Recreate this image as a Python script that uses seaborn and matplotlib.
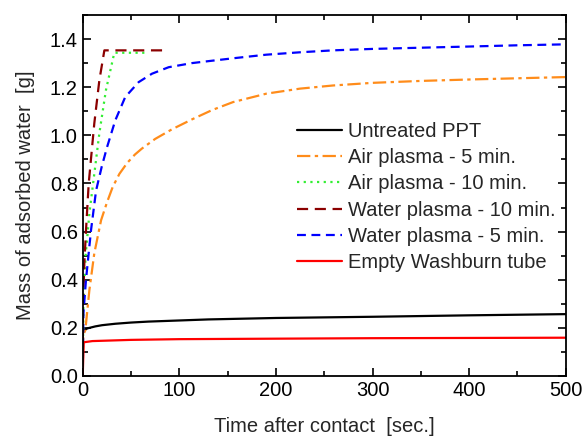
import numpy as np
import pandas as pd
import seaborn as sns
import matplotlib.pyplot as plt
from matplotlib.ticker import MultipleLocator

# data (time in s, mass in g)
t_untreated = [0, 0.5, 1, 5, 13, 20, 33.7, 50, 68, 130, 200, 300, 400, 500]
m_untreated = [0.17, 0.185, 0.19, 0.198, 0.206, 0.211, 0.217, 0.222, 0.226, 0.235, 0.241,
               0.246, 0.252, 0.257]

t_air5 = [0, 0.5, 2.7, 6.9, 12, 19, 25, 31, 38, 46, 54, 61.3, 75, 92.4, 113, 134, 155.6,
          190, 225, 259, 300, 350, 401, 450, 500]
m_air5 = [0.0, 0.17, 0.19, 0.357, 0.51, 0.647, 0.72, 0.785, 0.84, 0.885, 0.92, 0.945, 0.985,
          1.025, 1.066, 1.105, 1.138, 1.173, 1.194, 1.207, 1.218, 1.226, 1.232, 1.237, 1.242]

t_air10 = [0, 0.7, 3, 7, 12, 17.2, 24, 32.7, 64.5]
m_air10 = [0.0, 0.3, 0.5, 0.68, 0.84, 1.008, 1.187, 1.343, 1.343]

t_water10 = [0, 0.3, 1.7, 3.4, 6.2, 12, 17.2, 22.4, 87]
m_water10 = [0.0, 0.3, 0.47, 0.606, 0.80, 1.05, 1.228, 1.353, 1.353]

t_water5 = [0, 0.7, 3.4, 8.6, 13.8, 19.7, 25.2, 33.7, 44, 57.9, 71.7, 89, 113, 134, 160,
            190, 225, 259, 300, 350, 401, 450, 500]
m_water5 = [0.0, 0.26, 0.40, 0.606, 0.77, 0.87, 0.951, 1.062, 1.159, 1.221, 1.256, 1.283,
            1.30, 1.31, 1.322, 1.335, 1.345, 1.353, 1.359, 1.364, 1.369, 1.374, 1.378]

t_empty = [0, 1, 10, 50, 100, 200, 300, 400, 500]
m_empty = [0.0, 0.14, 0.145, 0.15, 0.153, 0.155, 0.157, 0.158, 0.159]

labels = ["Untreated PPT", "Air plasma - 5 min.", "Air plasma - 10 min.",
          "Water plasma - 10 min.", "Water plasma - 5 min.", "Empty Washburn tube"]

sns.set_theme(style="ticks")
plt.rcParams['font.family'] = ['Liberation Sans', 'DejaVu Sans']

fig = plt.figure(figsize=(5.85, 4.38), dpi=100)
ax = fig.add_axes([0.1414, 0.1416, 0.8256, 0.8242])

series = [
    (t_untreated, m_untreated, "black", None),
    (t_air5, m_air5, "#ff8c1a", (6, 2, 1.5, 2)),
    (t_air10, m_air10, "#33ee33", (1, 2)),
    (t_water10, m_water10, "#8b0000", (5, 3)),
    (t_water5, m_water5, "#0000ff", (4, 2.5)),
    (t_empty, m_empty, "#ff0000", None),
]

for (t, m, col, dash), lab in zip(series, labels):
    df = pd.DataFrame({"t": t, "m": m})
    sns.lineplot(data=df, x="t", y="m", ax=ax, color=col, label=lab, lw=1.6,
                 sort=False, estimator=None)
    if dash is not None:
        ax.lines[-1].set_dashes(dash)

ax.set_xlim(0, 500)
ax.set_ylim(0, 1.5)
ax.xaxis.set_major_locator(MultipleLocator(100))
ax.xaxis.set_minor_locator(MultipleLocator(50))
ax.yaxis.set_major_locator(MultipleLocator(0.2))
ax.yaxis.set_minor_locator(MultipleLocator(0.1))
ax.yaxis.set_major_formatter(plt.FormatStrFormatter('%.1f'))
ax.tick_params(which='both', direction='in', top=True, right=True, labelsize=14.5, colors='black')
ax.tick_params(which='major', length=6, width=1.2)
ax.tick_params(which='minor', length=3.5, width=1.2)
for sp in ax.spines.values():
    sp.set_linewidth(1.3)
    sp.set_color('black')

ax.set_xlabel("Time after contact  [sec.]", fontsize=14.5, labelpad=12)
ax.set_ylabel("Mass of adsorbed water  [g]", fontsize=14.5, labelpad=11)

ax.legend(loc='upper left', bbox_to_anchor=(297 / 585, 1 - 122 / 438),
          bbox_transform=fig.transFigure, frameon=False, fontsize=14.5,
          handlelength=2.25, handletextpad=0.3, labelspacing=0.36,
          borderpad=0, borderaxespad=0)

fig.savefig("out.png", dpi=100)
